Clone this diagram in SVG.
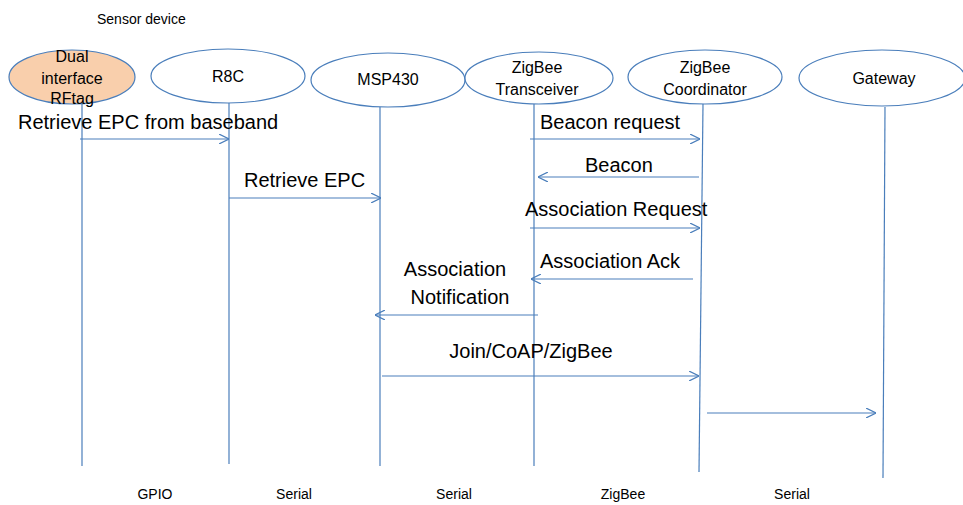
<svg xmlns="http://www.w3.org/2000/svg" width="963" height="505" viewBox="0 0 963 505">
<defs>
<style>
.n{fill:#ffffff;stroke:#4a7ebb;stroke-width:1.2}
.rf{fill:#f9cfac}
.t{font-family:"Liberation Sans",Arial,sans-serif;font-size:16px;fill:#000}
.m{font-family:"Liberation Sans",Arial,sans-serif;font-size:20px;fill:#000}
.s{font-family:"Liberation Sans",Arial,sans-serif;font-size:14px;fill:#000}
.ll{stroke:#4a7ebb;stroke-width:1.2;fill:none}
.a{stroke:#4a7ebb;stroke-width:1.2;fill:none;marker-end:url(#ah)}
</style>
<marker id="ah" viewBox="0 0 10 10" refX="10" refY="5" markerWidth="10" markerHeight="10" markerUnits="userSpaceOnUse" orient="auto">
<path d="M0,0 L10,5 L0,10" fill="none" stroke="#4a7ebb" stroke-width="1.2"/>
</marker>
</defs>
<rect width="963" height="505" fill="#ffffff"/>
<text class="s" x="97" y="24">Sensor device</text>

<g id="lifelines">
<line class="ll" x1="82" y1="104" x2="82" y2="466"/>
<line class="ll" x1="229" y1="103" x2="229" y2="464"/>
<line class="ll" x1="380" y1="107" x2="380" y2="466"/>
<line class="ll" x1="534" y1="104" x2="534" y2="466"/>
<line class="ll" x1="703" y1="104" x2="699" y2="472"/>
<line class="ll" x1="885" y1="107" x2="883" y2="478"/>
</g>

<g id="rftag">
<ellipse class="n rf" cx="72" cy="77" rx="63" ry="27"/>
<text class="t" x="72" y="62" text-anchor="middle">Dual</text>
<text class="t" x="72" y="84" text-anchor="middle">interface</text>
<text class="t" x="72" y="104" text-anchor="middle">RFtag</text>
</g>
<g id="r8c">
<ellipse class="n" cx="228" cy="76" rx="77" ry="27"/>
<text class="t" x="228" y="82" text-anchor="middle">R8C</text>
</g>
<g id="msp430">
<ellipse class="n" cx="388" cy="80" rx="77" ry="27"/>
<text class="t" x="388" y="85" text-anchor="middle">MSP430</text>
</g>
<g id="transceiver">
<ellipse class="n" cx="539" cy="78" rx="74" ry="26"/>
<text class="t" x="537" y="73" text-anchor="middle">ZigBee</text>
<text class="t" x="537" y="95" text-anchor="middle">Transceiver</text>
</g>
<g id="coordinator">
<ellipse class="n" cx="705" cy="77" rx="77" ry="27"/>
<text class="t" x="705" y="73" text-anchor="middle">ZigBee</text>
<text class="t" x="705" y="95" text-anchor="middle">Coordinator</text>
</g>
<g id="gateway">
<ellipse class="n" cx="882" cy="78" rx="83" ry="28"/>
<text class="t" x="884" y="84" text-anchor="middle">Gateway</text>
</g>

<g id="connectors">
<line class="a" x1="80" y1="139" x2="229" y2="139"/>
<line class="a" x1="229" y1="198" x2="381" y2="198"/>
<line class="a" x1="530" y1="139" x2="700" y2="139"/>
<line class="a" x1="699" y1="177" x2="538" y2="177"/>
<line class="a" x1="530" y1="228" x2="700" y2="228"/>
<line class="a" x1="693" y1="279" x2="531" y2="279"/>
<line class="a" x1="538" y1="315" x2="375" y2="315"/>
<line class="a" x1="382" y1="376" x2="699" y2="376"/>
<line class="a" x1="707" y1="413" x2="876" y2="413"/>
</g>

<g id="labels">
<text class="m" x="18" y="129">Retrieve EPC from baseband</text>
<text class="m" x="244" y="187">Retrieve EPC</text>
<text class="m" x="540" y="129">Beacon request</text>
<text class="m" x="585" y="172">Beacon</text>
<text class="m" x="525" y="216">Association Request</text>
<text class="m" x="540" y="268">Association Ack</text>
<text class="m" x="455" y="276" text-anchor="middle">Association</text>
<text class="m" x="460" y="304" text-anchor="middle">Notification</text>
<text class="m" x="531" y="358" text-anchor="middle">Join/CoAP/ZigBee</text>
</g>

<g id="interfaces">
<text class="s" x="155" y="499" text-anchor="middle">GPIO</text>
<text class="s" x="294" y="499" text-anchor="middle">Serial</text>
<text class="s" x="454" y="499" text-anchor="middle">Serial</text>
<text class="s" x="623" y="499" text-anchor="middle">ZigBee</text>
<text class="s" x="792" y="499" text-anchor="middle">Serial</text>
</g>
</svg>
